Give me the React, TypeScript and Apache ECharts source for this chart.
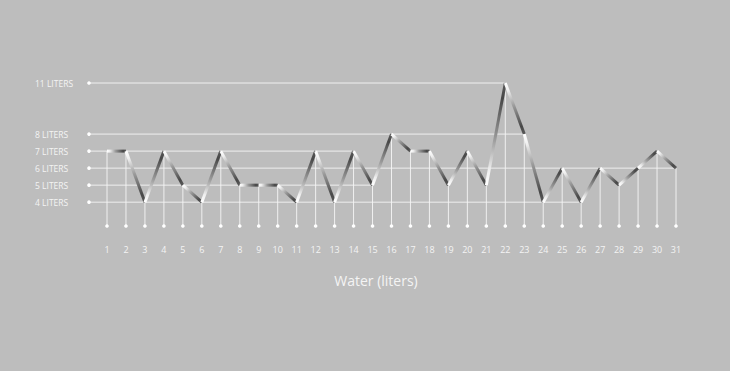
import React, { useEffect, useRef } from "react";
import * as echarts from "echarts";

const days = [1, 2, 3, 4, 5, 6, 7, 8, 9, 10, 11, 12, 13, 14, 15, 16, 17, 18, 19, 20, 21, 22, 23, 24, 25, 26, 27, 28, 29, 30, 31];
const water = [7, 7, 4, 7, 5, 4, 7, 5, 5, 5, 4, 7, 4, 7, 5, 8, 7, 7, 5, 7, 5, 11, 8, 4, 6, 4, 6, 5, 6, 7, 6];
const levels = [11, 8, 7, 6, 5, 4];
const levelLabels = ["11 LITERS", "8 LITERS", "7 LITERS", "6 LITERS", "5 LITERS", "4 LITERS"];
const levelEndDays = [22, 23, 14, 31, 15, 26];
const axisTitle = "Water (liters)";

const Y_MIN = 2.6;
const Y_MAX = 12;
const LINE_COLOR = "rgba(245,245,245,0.9)";
const TEXT_COLOR = "#f4f4f4";
const FONT = "'Open Sans', 'Noto Sans', sans-serif";

export default function App() {
  const ref = useRef<HTMLDivElement>(null);
  useEffect(() => {
    if (!ref.current) return;
    const chart = echarts.init(ref.current, null, { renderer: "svg" });
    const stops = [
      { offset: 0, color: "#ffffff" },
      { offset: 0.15, color: "#eeeeee" },
      { offset: 0.45, color: "#9a9a9a" },
      { offset: 0.85, color: "#484848" },
      { offset: 1, color: "#5a5a5a" },
    ];
    const option: any = {
      animation: false,
      backgroundColor: "#bdbdbd",
      title: {
        text: axisTitle,
        left: 376,
        top: 273,
        padding: 0,
        textAlign: "center",
        textStyle: { color: TEXT_COLOR, fontSize: 14, fontWeight: "normal", fontFamily: FONT },
      },
      grid: { left: 107, right: 54, top: 66, bottom: 145 },
      xAxis: {
        type: "value",
        min: 1,
        max: 31,
        interval: 1,
        silent: true,
        axisPointer: { show: false },
        axisLine: { show: false },
        axisTick: { show: false },
        splitLine: { show: false },
        axisLabel: { color: TEXT_COLOR, fontSize: 9, fontFamily: FONT, margin: 19 },
      },
      yAxis: { type: "value", min: Y_MIN, max: Y_MAX, show: false },
      series: [
        {
          type: "custom",
          name: "levels",
          silent: true,
          data: levels.map((lv, i) => [levelEndDays[i], lv]),
          renderItem: (params: any, api: any) => {
            const end = api.coord([api.value(0), api.value(1)]);
            const first = api.coord([days[0], api.value(1)]);
            const sx = first[0] - 18;
            return {
              type: "group",
              children: [
                {
                  type: "line",
                  shape: { x1: sx, y1: end[1], x2: end[0], y2: end[1] },
                  style: { stroke: LINE_COLOR, lineWidth: 1 },
                },
                { type: "circle", shape: { cx: sx, cy: end[1], r: 1.8 }, style: { fill: "#ffffff" } },
                {
                  type: "text",
                  x: sx - 54,
                  y: end[1],
                  style: {
                    text: levelLabels[params.dataIndex],
                    fill: TEXT_COLOR,
                    font: `8.5px ${FONT}`,
                    textAlign: "left",
                    textVerticalAlign: "middle",
                  },
                },
              ],
            };
          },
        },
        {
          type: "custom",
          name: "drops",
          silent: true,
          data: days.map((d, i) => [d, water[i]]),
          renderItem: (params: any, api: any) => {
            const p = api.coord([api.value(0), api.value(1)]);
            const b = api.coord([api.value(0), Y_MIN]);
            return {
              type: "group",
              children: [
                { type: "line", shape: { x1: p[0], y1: p[1], x2: b[0], y2: b[1] }, style: { stroke: LINE_COLOR, lineWidth: 1 } },
                { type: "circle", shape: { cx: b[0], cy: b[1], r: 1.8 }, style: { fill: "#ffffff" } },
              ],
            };
          },
        },
        {
          type: "custom",
          name: "water",
          silent: true,
          data: days.slice(0, -1).map((d, i) => [d, water[i], days[i + 1], water[i + 1]]),
          renderItem: (params: any, api: any) => {
            const p0 = api.coord([api.value(0), api.value(1)]);
            const p1 = api.coord([api.value(2), api.value(3)]);
            return {
              type: "line",
              shape: { x1: p0[0], y1: p0[1], x2: p1[0], y2: p1[1] },
              style: {
                stroke: new echarts.graphic.LinearGradient(p0[0], p0[1], p1[0], p1[1], stops, true),
                lineWidth: 3,
                lineCap: "butt",
              },
            };
          },
        },
      ],
    };
    chart.setOption(option);
    return () => chart.dispose();
  }, []);
  return <div ref={ref} style={{ position: "fixed", left: 0, top: 0, width: 730, height: 371 }} />;
}
